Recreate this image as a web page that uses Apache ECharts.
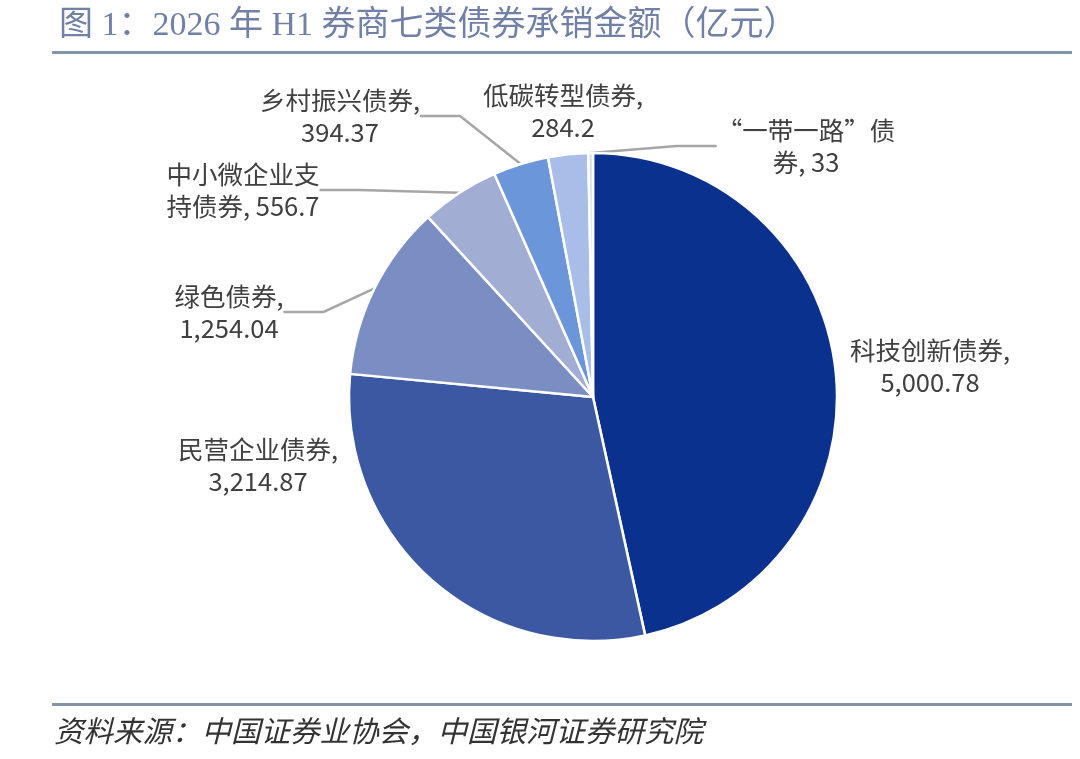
<!DOCTYPE html>
<html>
<head>
<meta charset="utf-8">
<title>券商七类债券承销金额</title>
<script src="https://cdn.jsdelivr.net/npm/echarts@6/dist/echarts.min.js"></script>
<style>
  html, body { margin: 0; padding: 0; background: #fff; }
  #chart { width: 1080px; height: 759px; }
</style>
</head>
<body>
<div id="chart"></div>
<script>
// data
var names = ['科技创新债券', '民营企业债券', '绿色债券', '中小微企业支持债券', '乡村振兴债券', '低碳转型债券', '“一带一路”债券'];
var values = [5000.78, 3214.87, 1254.04, 556.7, 394.37, 284.2, 33];
var colors = ['#0B318F', '#3D58A3', '#7A8EC4', '#A2ADD4', '#6B97DA', '#A8BDE8', '#D3DCF2'];
// which slices get a leader line in the original
var showLine = [false, false, true, true, true, false, true];

// where each label sits (centre of the text block)
var labelPos = [[930, 366], [258, 465], [229, 312], [243, 190], [340, 116], [563, 111], [806, 146]];

// how the label text breaks
var labelHead = {
  '中小微企业支持债券': '中小微企业支\n持债券, ',
  '“一带一路”债券': '“一带一路”债\n券, '
};

var myChart = echarts.init(document.getElementById('chart'));

var pieData = [];
for (var i = 0; i < names.length; i++) {
  pieData.push({
    name: names[i],
    value: values[i],
    itemStyle: { color: colors[i] },
    labelLine: { show: showLine[i] }
  });
}

var option = {
  animation: false,
  title: {
    text: '图 1：2026 年 H1 券商七类债券承销金额（亿元）',
    left: 54,
    top: 4,
    textStyle: {
      fontFamily: '"Liberation Serif", "Noto Sans CJK SC", serif',
      fontSize: 34,
      fontWeight: 'normal',
      color: '#7080A6'
    }
  },
  graphic: [
    { type: 'rect', shape: { x: 52, y: 51, width: 1020, height: 3 }, style: { fill: '#8493AC' } },
    { type: 'rect', shape: { x: 52, y: 703, width: 1020, height: 3 }, style: { fill: '#8493AC' } },
    {
      type: 'text', left: 54, top: 716,
      style: {
        text: '资料来源：中国证券业协会，中国银河证券研究院',
        font: 'italic 29.5px "Noto Sans CJK SC", sans-serif',
        fill: '#333'
      }
    }
  ],
  series: [{
    type: 'pie',
    center: [593, 397],
    radius: 244,
    startAngle: 90,
    clockwise: true,
    itemStyle: { borderColor: '#fff', borderWidth: 2.5 },
    label: {
      show: true,
      fontFamily: '"Noto Sans CJK SC", sans-serif',
      fontSize: 25.5,
      lineHeight: 32,
      color: '#404040',
      align: 'center',
      formatter: function (p) {
        var head = labelHead[p.name] || (p.name + ',\n');
        return head + p.value.toLocaleString('en-US');
      }
    },
    labelLine: {
      show: true,
      length: 20,
      length2: 40,
      lineStyle: { color: '#A6A6A6', width: 2.5 }
    },
    labelLayout: function (params) {
      var p = labelPos[params.dataIndex];
      return { x: p[0], y: p[1], align: 'center', verticalAlign: 'middle' };
    },
    data: pieData
  }]
};

myChart.setOption(option);
</script>
</body>
</html>
